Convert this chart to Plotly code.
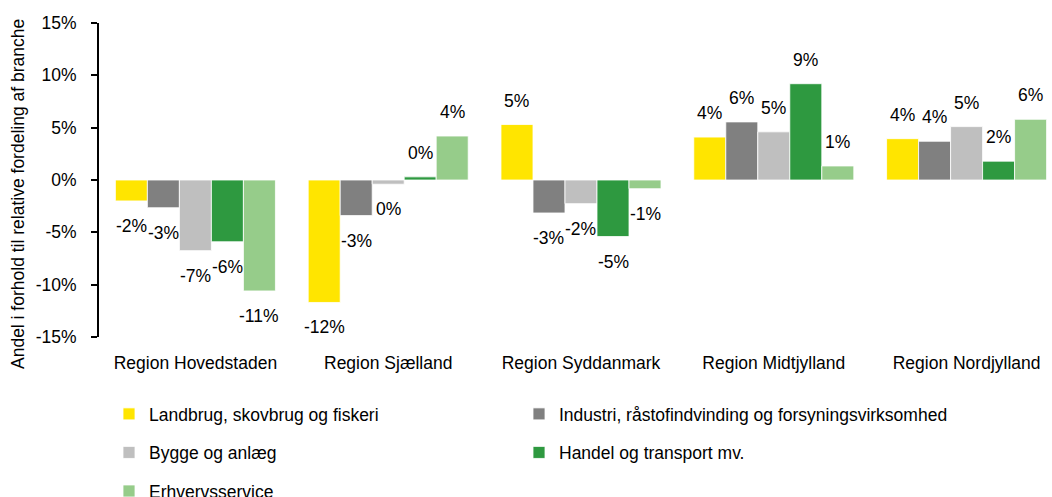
import plotly.graph_objects as go

# Regions along the x axis
regions = ["Region Hovedstaden", "Region Sjælland", "Region Syddanmark",
           "Region Midtjylland", "Region Nordjylland"]

# Industry series (difference in share, %)
landbrug = [-2.0, -11.7, 5.3, 4.1, 3.95]
industri = [-2.65, -3.4, -3.15, 5.55, 3.7]
bygge = [-6.75, -0.4, -2.26, 4.6, 5.1]
handel = [-5.9, 0.3, -5.4, 9.2, 1.8]
erhverv = [-10.6, 4.2, -0.83, 1.34, 5.8]

series_names = ["Landbrug, skovbrug og fiskeri",
                "Industri, råstofindvinding og forsyningsvirksomhed",
                "Bygge og anlæg",
                "Handel og transport mv.",
                "Erhvervsservice"]
series_values = [landbrug, industri, bygge, handel, erhverv]
colors = ["#FFE500", "#808080", "#BFBFBF", "#2E9940", "#96CC8A"]

y_tickvals = [-15, -10, -5, 0, 5, 10, 15]
y_ticktext = ["-15%", "-10%", "-5%", "0%", "5%", "10%", "15%"]

FONT = "Liberation Sans, Arial, sans-serif"
FS = 17.5
W, H = 1052, 497
M_L, M_R, M_T, M_B = 99, 0, 23, 160
BARGAP = 0.17
X_RANGE = [-0.5, 4.443]
Y_RANGE = [-15, 15]

# legend column for each series (entries fill left column, then right)
legend_ids = ["legend", "legend2", "legend", "legend2", "legend"]

fig = go.Figure()
for k, (name, vals, col, lg) in enumerate(
        zip(series_names, series_values, colors, legend_ids)):
    fig.add_trace(go.Bar(
        x=regions, y=vals, name=name,
        marker=dict(color=col, line=dict(color="white", width=0.8)),
        legend=lg, legendgroup=f"g{k}",
    ))

# value labels above/below each bar
n = len(series_values)
w = (1 - BARGAP) / n
for i, vals in enumerate(series_values):
    for j, v in enumerate(vals):
        fig.add_annotation(
            x=j + (i - (n - 1) / 2) * w, y=v, xref="x", yref="y",
            text=f"{int(round(v))}%", showarrow=False,
            yshift=24 if v >= 0 else -25,
            font=dict(family=FONT, size=FS, color="black"),
        )

plot_h = H - M_T - M_B
plot_w = W - M_L - M_R
# y-axis title
fig.add_annotation(
    x=0, xref="paper", xshift=-81, xanchor="center",
    y=(H - M_B - 194) / plot_h, yref="paper", yanchor="middle",
    text="Andel i forhold til relative fordeling af branche",
    textangle=-90, showarrow=False,
    font=dict(family=FONT, size=FS, color="black"),
)

zero_pos = (0 - Y_RANGE[0]) / (Y_RANGE[1] - Y_RANGE[0])


def legend_col(x_px, top_px):
    return dict(
        orientation="v", x=(x_px - M_L) / plot_w, xanchor="left",
        y=(H - M_B - top_px) / plot_h, yanchor="top",
        tracegroupgap=12.8, bgcolor="rgba(0,0,0,0)",
        font=dict(family=FONT, size=FS, color="black"),
        itemclick=False, itemdoubleclick=False,
    )


fig.update_layout(
    width=W, height=H,
    margin=dict(l=M_L, r=M_R, t=M_T, b=M_B, autoexpand=False),
    paper_bgcolor="white", plot_bgcolor="white",
    barmode="group", bargap=BARGAP, bargroupgap=0,
    font=dict(family=FONT, size=FS, color="black"),
    showlegend=True,
    legend=legend_col(109, 396),
    legend2=legend_col(519, 396),
    xaxis=dict(type="category", range=X_RANGE, showline=False, ticks="",
               showgrid=False, zeroline=False, ticklabelstandoff=13,
               tickfont=dict(family=FONT, size=FS, color="black")),
    xaxis2=dict(overlaying="x", anchor="free", position=zero_pos,
                range=X_RANGE, showline=True, linecolor="black", linewidth=2,
                ticks="outside", ticklen=6, tickwidth=2, tickcolor="black",
                tickvals=[k + 0.5 for k in range(len(regions) - 1)],
                showticklabels=False, showgrid=False, zeroline=False,
                layer="above traces"),
    yaxis=dict(range=Y_RANGE, tickvals=y_tickvals, ticktext=y_ticktext,
               showline=True, linecolor="black", linewidth=2,
               ticks="outside", ticklen=6, tickwidth=2, tickcolor="black",
               showgrid=False, zeroline=False, ticklabelstandoff=11,
               tickfont=dict(family=FONT, size=FS, color="black")),
)

fig.write_html("out.html")
